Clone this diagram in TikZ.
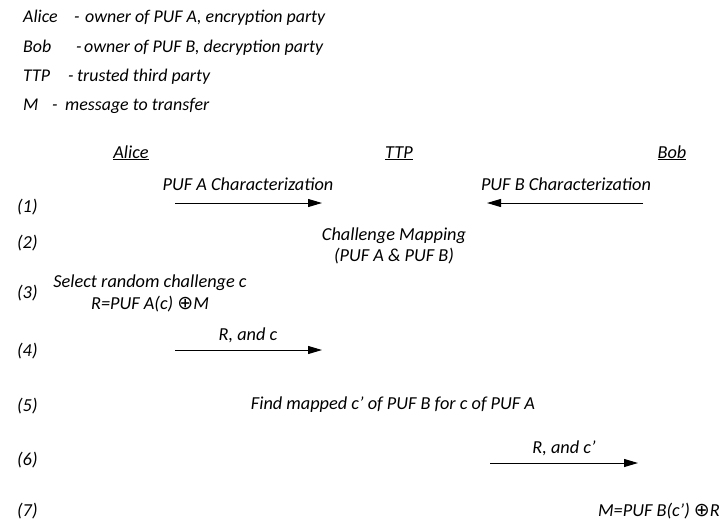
\documentclass[tikz,border=0pt]{standalone}
\usepackage{fontspec}
\setmainfont{Carlito}
\newfontfamily\oplusfont{DejaVu Sans}
\usetikzlibrary{arrows.meta}
\newcommand\xorop{{\oplusfont\fontsize{19}{19}\selectfont ⊕}}
\tikzset{
  txt/.style={font=\fontsize{18.3}{22}\selectfont\itshape, inner sep=0pt, anchor=base},
  txtw/.style={txt, anchor=base west},
  lgd/.style={font=\fontsize{17.9}{22}\selectfont\itshape, inner sep=0pt, anchor=base west},
  stepno/.style={txt, anchor=base west},
  msg/.style={-{Triangle[length=14pt,width=8pt]}, line width=1pt}
}
\begin{document}
\begin{tikzpicture}[x=1pt,y=-1pt]
\useasboundingbox (0,0) rectangle (724,523);

% legend
\node[lgd] (kA) at (23,22) {Alice};
\node[lgd] (dA) at (74,22) {-};
\node[lgd] (tA) at (85,22) {owner of PUF A, encryption party};
\node[lgd] (kB) at (23,52) {Bob};
\node[lgd] (dB) at (76,52) {-};
\node[lgd] (tB) at (84,52) {owner of PUF B, decryption party};
\node[lgd] (kT) at (23,81) {TTP};
\node[lgd] (dT) at (68,81) {-};
\node[lgd] (tT) at (77,81) {trusted third party};
\node[lgd] (kM) at (23,110) {M};
\node[lgd] (dM) at (52,110) {-};
\node[lgd] (tM) at (65,110) {message to transfer};

% parties
\node[txt] (alice) at (131,158) {\underline{Alice}};
\node[txt] (ttp) at (399,158) {\underline{TTP}};
\node[txt] (bob) at (672,158) {\underline{Bob}};

% step numbers
\node[stepno] (s1) at (17,212) {(1)};
\node[stepno] (s2) at (17,248) {(2)};
\node[stepno] (s3) at (17,298) {(3)};
\node[stepno] (s4) at (17,356) {(4)};
\node[stepno] (s5) at (17,411) {(5)};
\node[stepno] (s6) at (17,465) {(6)};
\node[stepno] (s7) at (17,516) {(7)};

% step 1
\node[txt] (charA) at (248,190) {PUF A Characterization};
\node[txt] (charB) at (566,190) {PUF B Characterization};
\coordinate (a1s) at (175,203);
\coordinate (a1e) at (322,203);
\coordinate (b1s) at (643,203);
\coordinate (b1e) at (487,203);
\draw[msg] (a1s) -- (a1e);
\draw[msg] (b1s) -- (b1e);

% step 2
\node[txt] (map1) at (394,240) {Challenge Mapping};
\node[txt] (map2) at (394,261) {(PUF A \& PUF B)};

% step 3
\node[txt] (sel) at (150,287) {Select random challenge c};
\node[txt] (enc) at (150,309) {R=PUF A(c) \xorop M};

% step 4
\node[txt] (send1) at (248,340) {R, and c};
\coordinate (a4s) at (175,350);
\coordinate (a4e) at (322,350);
\draw[msg] (a4s) -- (a4e);

% step 5
\node[txt] (find) at (393,409) {Find mapped c’ of PUF B for c of PUF A};

% step 6
\node[txt] (send2) at (564,453) {R, and c’};
\coordinate (a6s) at (490,463);
\coordinate (a6e) at (638,463);
\draw[msg] (a6s) -- (a6e);

% step 7
\node[txt, anchor=base east] (dec) at (720,516) {M=PUF B(c’) \xorop R};
\end{tikzpicture}
\end{document}
